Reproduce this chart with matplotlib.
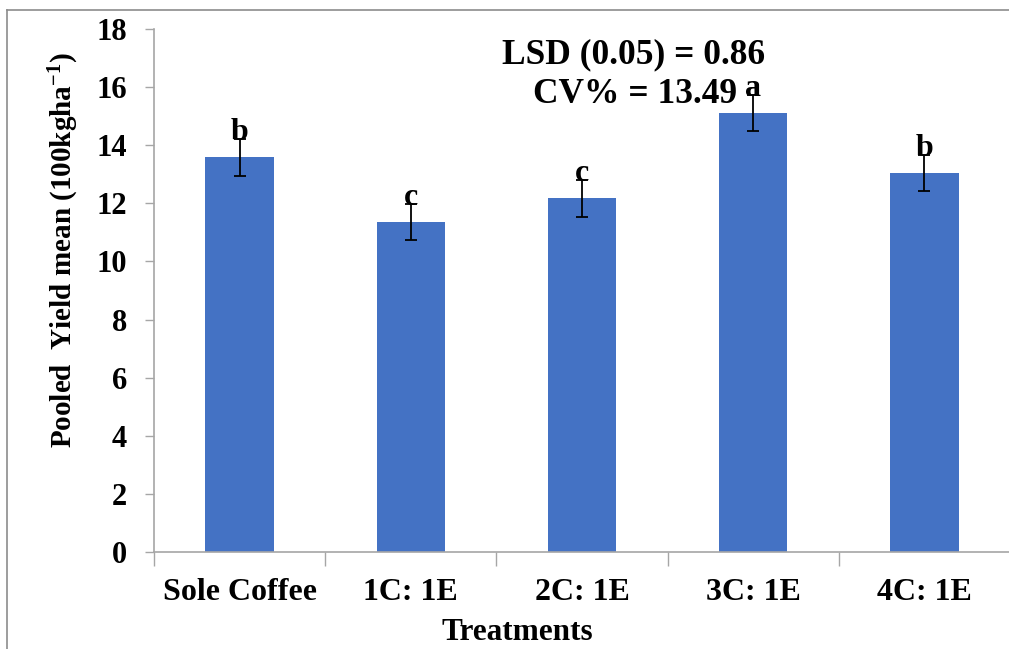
import matplotlib
matplotlib.use("Agg")
import matplotlib.pyplot as plt
from matplotlib.lines import Line2D

categories = ["Sole Coffee", "1C: 1E", "2C: 1E", "3C: 1E", "4C: 1E"]
means = [13.58, 11.35, 12.17, 15.10, 13.05]
errors = [0.64, 0.62, 0.63, 0.62, 0.62]
letters = ["b", "c", "c", "a", "b"]
yticks = [0, 2, 4, 6, 8, 10, 12, 14, 16, 18]

plt.rcParams['font.family'] = ['Liberation Serif', 'DejaVu Serif']
plt.rcParams['font.weight'] = 'bold'
plt.rcParams['mathtext.fontset'] = 'custom'
plt.rcParams['mathtext.rm'] = 'Liberation Serif:bold'
plt.rcParams['mathtext.bf'] = 'Liberation Serif:bold'
plt.rcParams['mathtext.it'] = 'Liberation Serif:bold'

fig = plt.figure(figsize=(10.09, 6.49), dpi=100)
ax = fig.add_axes([154/1009, 1-552/649, (1010-154)/1009, (552-29)/649])

x = list(range(len(categories)))
ax.bar(x, means, width=0.4, color='#4472C4', zorder=2)
ax.errorbar(x, means, yerr=errors, fmt='none', ecolor='black', elinewidth=1.3,
            capsize=4.6, capthick=1.3, zorder=3)
for xi, m, e, l in zip(x, means, errors, letters):
    ax.text(xi, m + e - 0.03, l, ha='center', va='baseline', fontsize=23,
            fontweight='bold', zorder=4)

ax.set_xlim(-0.5, len(categories) - 0.5)
ax.set_ylim(0, 18)
ax.set_yticks(yticks)
ax.set_yticklabels([str(t) for t in yticks], fontsize=22, fontweight='bold')
ax.set_xticks([i - 0.5 for i in range(len(categories) + 1)])
ax.set_xticklabels([])
ax.set_xticks(x, minor=True)
ax.set_xticklabels(categories, minor=True, fontsize=23, fontweight='bold')
ax.tick_params(axis='x', which='major', length=10, color='#A6A6A6', width=1)
ax.tick_params(axis='x', which='minor', length=0, pad=19)
ax.tick_params(axis='y', length=6.5, color='#A6A6A6', width=1, pad=13)

for s in ['top', 'right']:
    ax.spines[s].set_visible(False)
for s in ['left', 'bottom']:
    ax.spines[s].set_color('#A6A6A6')
    ax.spines[s].set_linewidth(1.2)

ax.text((517-154)/856, (552-640)/523, "Treatments", transform=ax.transAxes,
        ha='center', va='baseline', fontsize=22.5, fontweight='bold')
ax.text((64-154)/856, (552-250)/523,
        "Pooled  Yield mean (100kgha$^{-1}$)", transform=ax.transAxes,
        rotation=90, ha='center', va='center', fontsize=21, fontweight='bold')

ax.text(2.3, 16.83, "LSD (0.05) = 0.86", ha='center', va='baseline', fontsize=25.5,
        fontweight='bold')
ax.text(2.31, 15.45, "CV% = 13.49", ha='center', va='baseline', fontsize=25.5,
        fontweight='bold')

# figure frame
fig.add_artist(Line2D([7/1009, 7/1009], [0, 1-10/649], transform=fig.transFigure,
                      color='#8C8C8C', lw=1.2))
fig.add_artist(Line2D([7/1009, 1], [1-10/649, 1-10/649], transform=fig.transFigure,
                      color='#8C8C8C', lw=1.2))

fig.savefig("out.png", dpi=100)
